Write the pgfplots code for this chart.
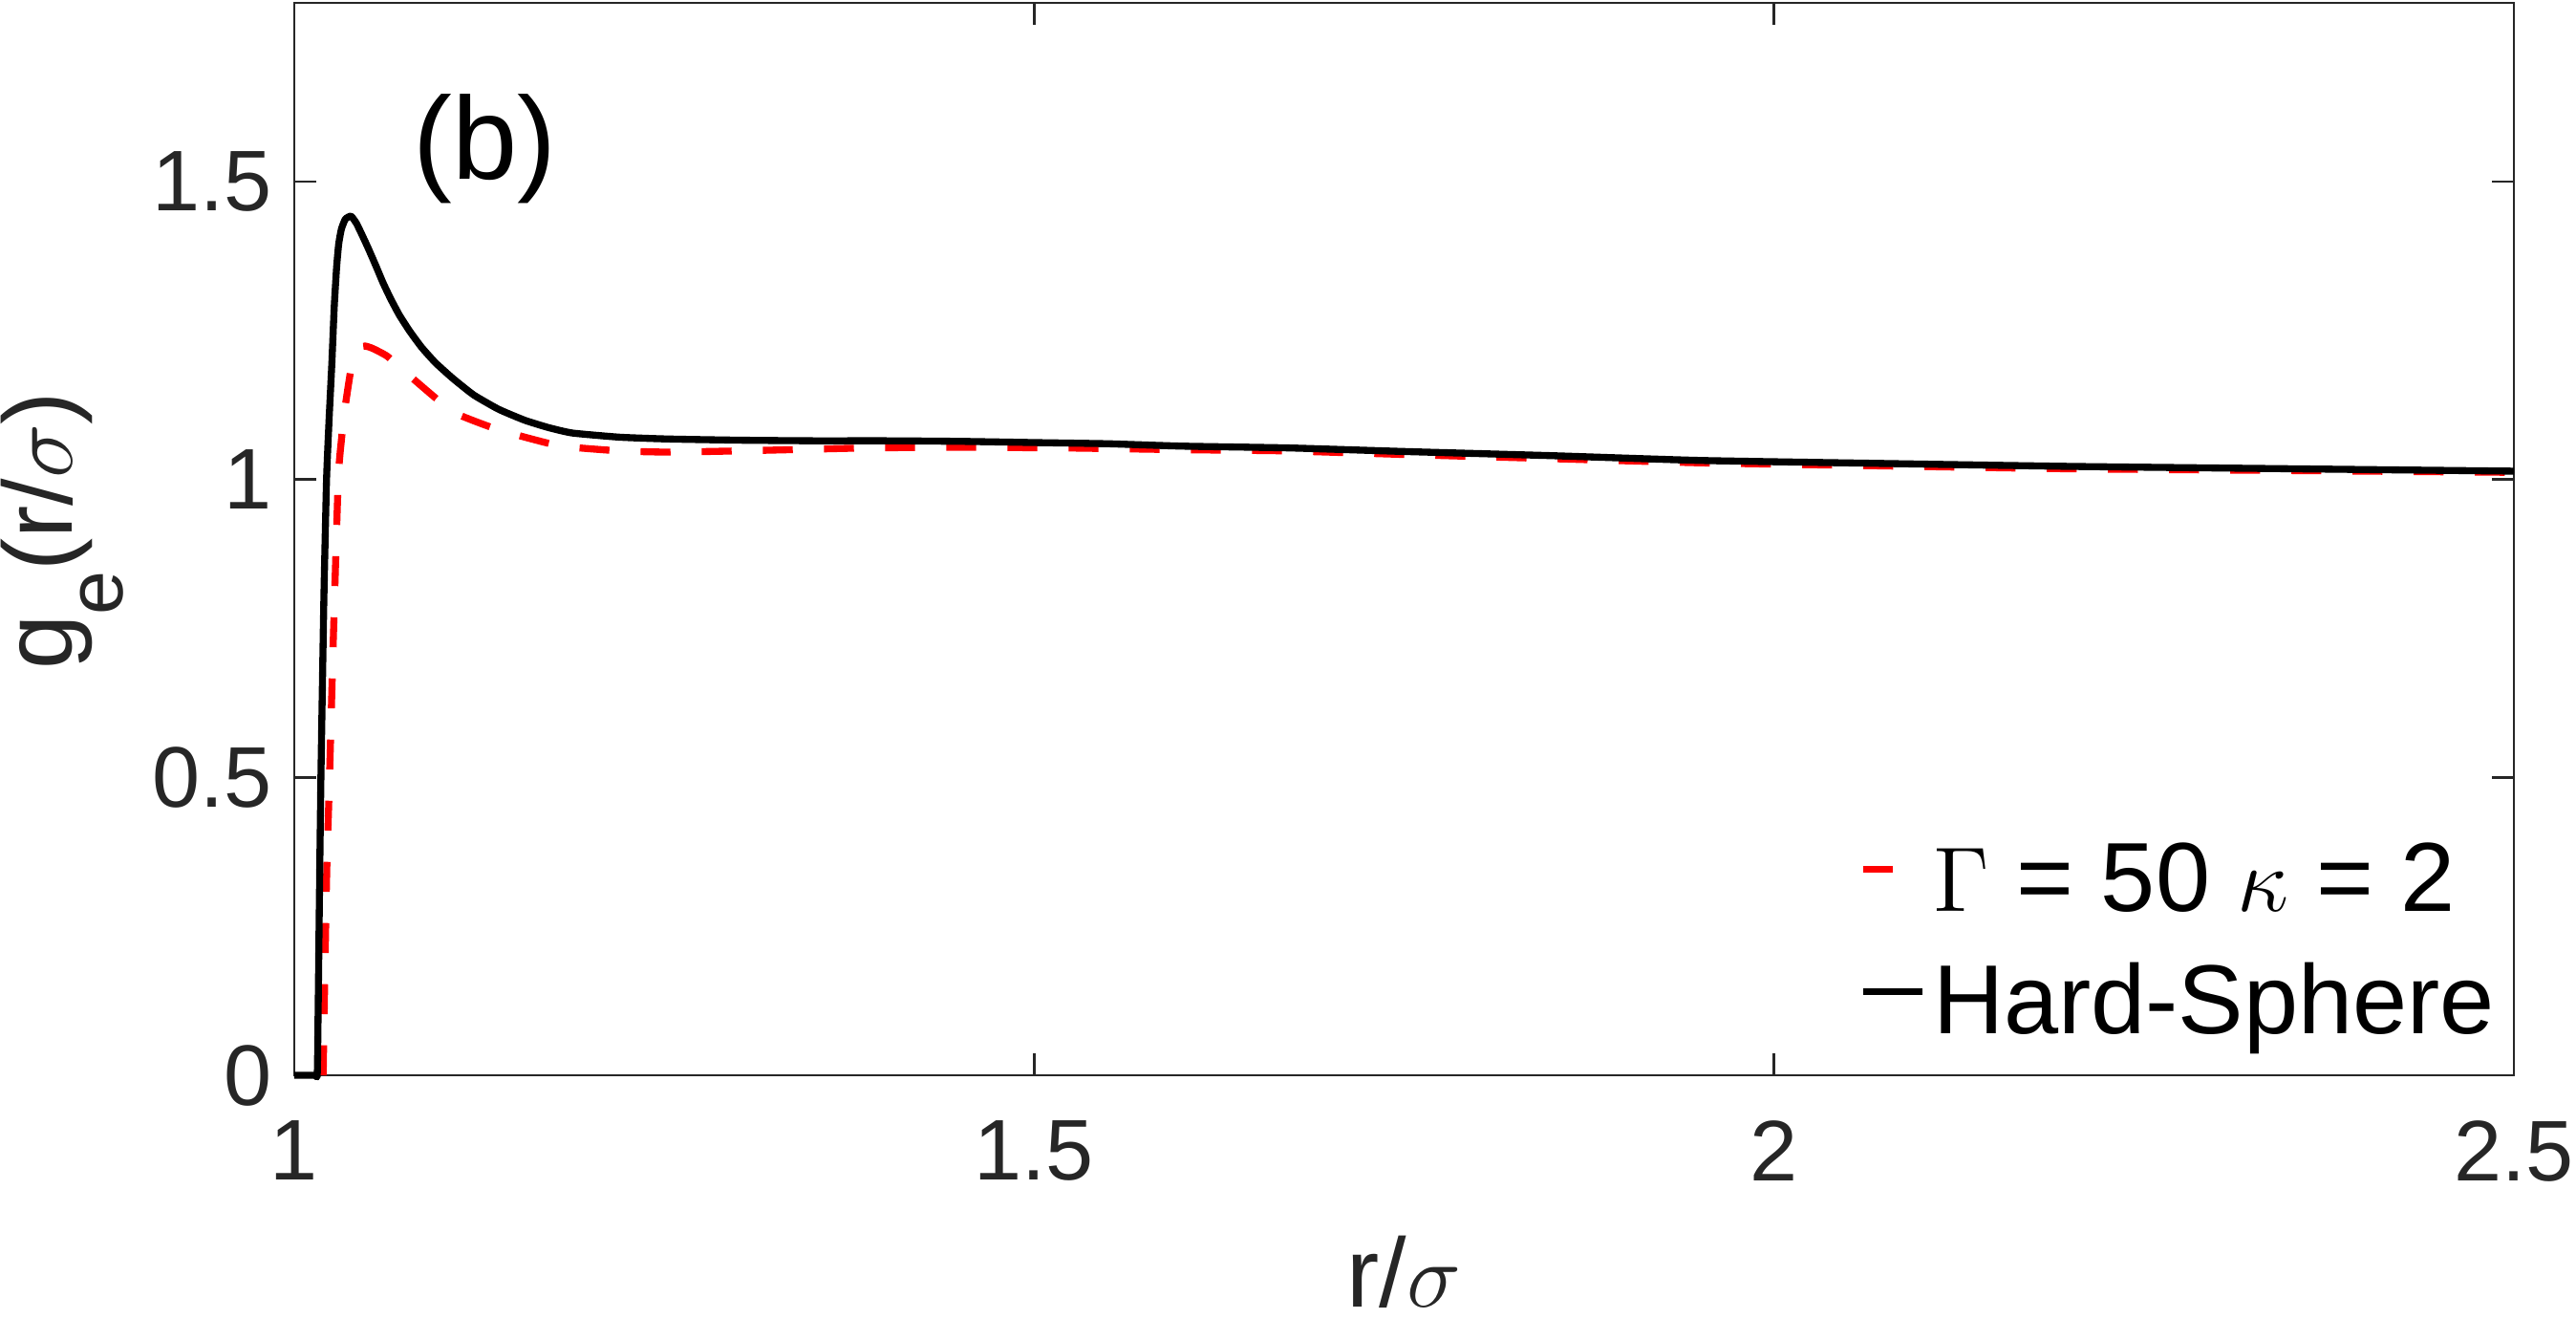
\documentclass[border=0pt]{standalone}
\usepackage{fontspec}
\setmainfont{Liberation Sans}
\usepackage{pgfplots}
\usepackage{pgfplotstable}
\pgfplotsset{compat=1.18}
\definecolor{axgray}{HTML}{262626}
\definecolor{myred}{HTML}{FF0000}

\pgfplotstableread{
x y
1.0195 0
1.0205 0.15
1.0220 0.35
1.0237 0.49
1.0260 0.70
1.0297 1.00
1.0320 1.07
1.0340 1.1155
1.0383 1.185
1.0420 1.210
1.0448 1.222
1.0480 1.224
1.0530 1.220
1.0630 1.2066
1.0780 1.174
1.0954 1.137
1.1100 1.110
1.1380 1.0835
1.1790 1.0567
1.2200 1.048
1.2526 1.046
1.3000 1.048
1.3876 1.053
1.4500 1.054
1.5190 1.053
1.6000 1.050
1.6700 1.048
1.7500 1.042
1.8500 1.035
1.9500 1.028
2.0700 1.023
2.2000 1.018
2.3500 1.015
2.5000 1.012
}\redtable

\pgfplotstableread{
x y
1.0000 0
1.0140 0
1.0155 0
1.0160 0.08
1.0170 0.30
1.0180 0.50
1.0200 0.80
1.0218 1.00
1.0235 1.10
1.0254 1.196
1.0270 1.29
1.0286 1.356
1.0300 1.395
1.0318 1.420
1.0345 1.437
1.0383 1.442
1.0420 1.430
1.0459 1.410
1.0500 1.388
1.0556 1.356
1.0600 1.330
1.0652 1.303
1.0710 1.276
1.0780 1.249
1.0860 1.222
1.0954 1.196
1.1070 1.170
1.1212 1.142
1.1380 1.118
1.1557 1.0995
1.1720 1.087
1.1880 1.078
1.2200 1.071
1.2526 1.068
1.3000 1.066
1.3500 1.065
1.4000 1.065
1.4510 1.064
1.5000 1.062
1.5500 1.060
1.6000 1.056
1.6720 1.053
1.7500 1.047
1.8500 1.040
1.9500 1.032
2.0717 1.027
2.2000 1.022
2.3500 1.018
2.5000 1.014
}\hstable

\begin{document}
\begin{tikzpicture}
\useasboundingbox (-46.2pt,-38.2pt) rectangle (358.2pt,168.75pt);
\begin{axis}[
  at={(0pt,0pt)}, anchor=south west,
  scale only axis,
  width=348.45pt, height=168.3pt,
  xmin=1, xmax=2.5, ymin=0, ymax=1.8,
  xtick={1,1.5,2,2.5}, ytick={0,0.5,1,1.5},
  xticklabels={1,1.5,2,2.5}, yticklabels={0,0.5,1,1.5},
  /pgf/number format/assume math mode=true,
  tick align=inside,
  major tick length=3.5pt,
  axis line style={axgray, line width=0.4pt},
  every tick/.style={axgray, line width=0.4pt},
  tick label style={font=\fontsize{13.5}{13.5}\selectfont, text=axgray},
  xticklabel style={yshift=-3.6pt},
  clip=false,
  every axis y label/.style={at={([xshift=-34.95pt,yshift=1.3pt]axis description cs:0,0.5)}, rotate=90, anchor=base, inner sep=0pt, font=\fontsize{15.4}{15.4}\selectfont, text=axgray},
  every axis x label/.style={at={([yshift=-36.4pt]axis description cs:0.5,0)}, anchor=base, inner sep=0pt, font=\fontsize{15.4}{15.4}\selectfont, text=axgray},
  xlabel={r/$\sigma$},
  ylabel={g\raisebox{-8pt}{\fontsize{12.4}{12.4}\selectfont e}(r/$\sigma$)},
  legend style={draw=none, fill=none, at={(0.7051,0.0196)}, anchor=south west, inner sep=0pt, outer sep=0pt, row sep=4.8pt, column sep=1.2pt, nodes={inner sep=0pt, text height=11.2pt, text depth=3.2pt, font=\fontsize{15.4}{15.4}\selectfont}},
  legend cell align=left,
  legend image code/.code={\draw[#1] (0pt,2.6pt) -- (9.3pt,2.6pt);},
]
\addplot[myred, line width=1.1pt, dash pattern=on 4.7pt off 4.9pt, line join=round, smooth, tension=0.3] table[x=x,y=y] {\redtable};
\addlegendentry{$\Gamma$ = 50 $\kappa$ = 2}
\addplot[black, line width=1.1pt, line join=round, smooth, tension=0.3] table[x=x,y=y] {\hstable};
\addlegendentry{Hard-Sphere}
\node[font=\fontsize{18.4}{18.4}\selectfont, anchor=center] at (axis cs:1.129,1.555) {(b)};
\end{axis}
\end{tikzpicture}
\end{document}
